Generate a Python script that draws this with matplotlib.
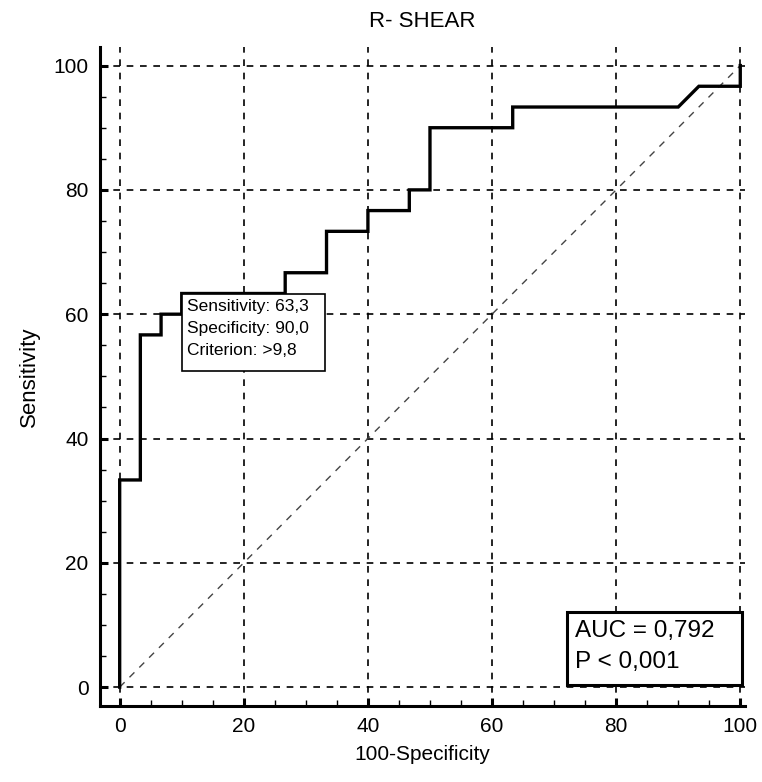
import matplotlib
matplotlib.use('Agg')
import matplotlib.pyplot as plt
from matplotlib.patches import Rectangle
from matplotlib.ticker import MultipleLocator

# ROC curve points (100-Specificity, Sensitivity)
fpr = [0, 0, 3.33, 3.33, 6.67, 6.67, 10, 10, 26.67, 26.67, 33.33, 33.33, 40, 40,
       46.67, 46.67, 50, 50, 63.33, 63.33, 90, 93.33, 100, 100]
tpr = [0, 33.33, 33.33, 56.67, 56.67, 60, 60, 63.33, 63.33, 66.67, 66.67, 73.33,
       73.33, 76.67, 76.67, 80, 80, 90, 90, 93.33, 93.33, 96.67, 96.67, 100]
ticks = [0, 20, 40, 60, 80, 100]
cut_lines = ['Sensitivity: 63,3', 'Specificity: 90,0', 'Criterion: >9,8']
stat_lines = ['AUC = 0,792', 'P < 0,001']

plt.rcParams['font.family'] = ['Liberation Sans', 'DejaVu Sans']

fig = plt.figure(figsize=(7.62, 7.82), dpi=100)
ax = fig.add_axes([0.131, 0.097, 0.847, 0.843])

ax.set_xlim(-3.2, 100.8)
ax.set_ylim(-3.06, 103)

# grid
for t in ticks:
    ax.axvline(t, color='black', lw=1.2, ls=(0, (4, 4)), zorder=1)
    ax.axhline(t, color='black', lw=1.2, ls=(0, (4, 4)), zorder=1)

# reference diagonal
ax.plot([0, 100], [0, 100], color='#444444', lw=1.0, ls=(0, (5, 5)), zorder=2)

# ROC curve
ax.plot(fpr, tpr, color='black', lw=2.4, zorder=3, solid_joinstyle='miter')

# cut-off box
ax.add_patch(Rectangle((10, 50.8), 23.1, 12.5, facecolor='white',
                       edgecolor='black', lw=1.2, zorder=4))
for i, s in enumerate(cut_lines):
    ax.text(10.8, 61.2 - i * 3.5, s, fontsize=12.5, va='center', ha='left', zorder=5)

# AUC box
ax.add_patch(Rectangle((72.0, 0.3), 28.2, 11.8, facecolor='white',
                       edgecolor='black', lw=2.2, zorder=4))
for i, s in enumerate(stat_lines):
    ax.text(73.4, 9.0 - i * 5.0, s, fontsize=17.5, va='center', ha='left', zorder=5)

ax.spines['top'].set_visible(False)
ax.spines['right'].set_visible(False)
ax.spines['left'].set_linewidth(2.2)
ax.spines['bottom'].set_linewidth(2.2)

ax.set_xticks(ticks)
ax.set_yticks(ticks)
ax.xaxis.set_minor_locator(MultipleLocator(5))
ax.yaxis.set_minor_locator(MultipleLocator(5))
ax.tick_params(which='major', direction='in', length=6, width=2.2, labelsize=15, pad=8)
ax.tick_params(which='minor', direction='in', length=4, width=1.0)

ax.set_title('R- SHEAR', fontsize=16, pad=14)
ax.set_xlabel('100-Specificity', fontsize=15, labelpad=6)
ax.set_ylabel('Sensitivity', fontsize=16, labelpad=10)

fig.savefig('out.png', dpi=100)
